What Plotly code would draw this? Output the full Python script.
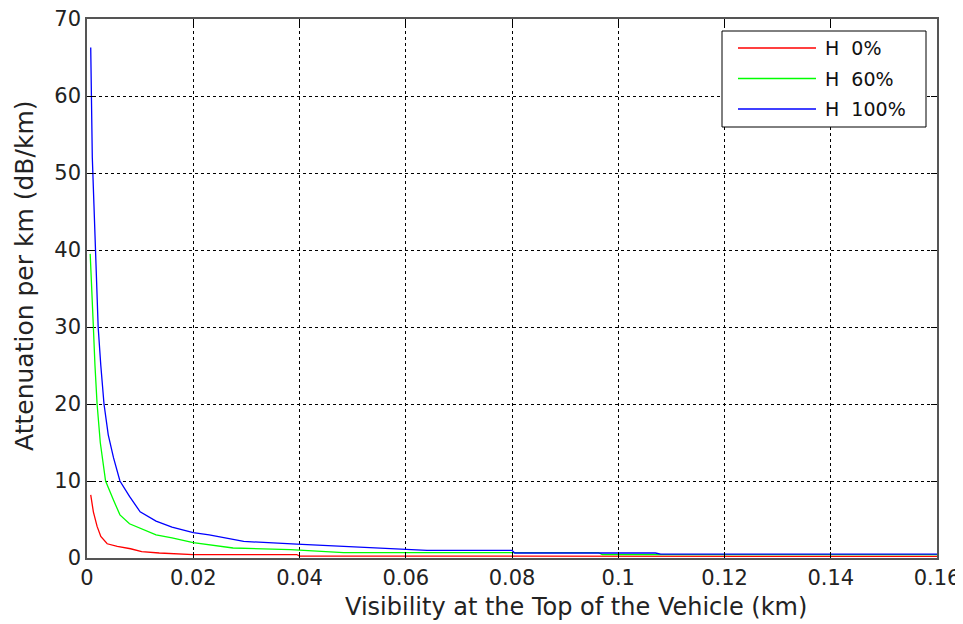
import plotly.graph_objects as go

# ---- data ----
series_names = ["H 0%", "H 60%", "H 100%"]
series_colors = ["#ff0000", "#00ff00", "#0000ff"]

x_h0 = [0.0007, 0.0012, 0.0019, 0.0026, 0.0038, 0.0057, 0.0082, 0.0103, 0.0136,
        0.020, 0.0395, 0.040, 0.16]
y_h0 = [8.2, 6.0, 4.1, 2.8, 1.85, 1.5, 1.2, 0.82, 0.65,
        0.45, 0.45, 0.25, 0.2]

x_h60 = [0.0006, 0.0008, 0.0012, 0.0015, 0.0019, 0.0025, 0.0035, 0.005, 0.0062,
         0.008, 0.010, 0.013, 0.016, 0.020, 0.0275, 0.0383, 0.0483, 0.0963, 0.097, 0.16]
y_h60 = [39.5, 35.5, 30, 25, 20, 15, 10, 7.5, 5.6,
         4.45, 3.9, 3.0, 2.6, 2.0, 1.3, 1.08, 0.7, 0.7, 0.45, 0.45]

x_h100 = [0.0007, 0.0008, 0.0010, 0.0013, 0.0016, 0.0021, 0.0026, 0.0032, 0.0040,
          0.0050, 0.0062, 0.0080, 0.010, 0.013, 0.016, 0.020, 0.023, 0.0295, 0.0395,
          0.0533, 0.064, 0.080, 0.0805, 0.107, 0.108, 0.16]
y_h100 = [66.3, 60, 52, 46, 40, 30, 25, 20, 16,
          13, 10, 8.0, 6.0, 4.8, 4.0, 3.3, 3.0, 2.15, 1.8,
          1.3, 1.0, 1.0, 0.65, 0.65, 0.5, 0.5]

x_ticks = [0, 0.02, 0.04, 0.06, 0.08, 0.1, 0.12, 0.14, 0.16]
x_tick_labels = ["0", "0.02", "0.04", "0.06", "0.08", "0.1", "0.12", "0.14", "0.16"]
y_ticks = [0, 10, 20, 30, 40, 50, 60, 70]

x_title = "Visibility at the Top of the Vehicle (km)"
y_title = "Attenuation per km (dB/km)"

fig = go.Figure()
for xs, ys, name, col in zip([x_h0, x_h60, x_h100], [y_h0, y_h60, y_h100],
                             series_names, series_colors):
    fig.add_trace(go.Scatter(x=xs, y=ys, mode="lines", name=name,
                             line=dict(color=col, width=1.3), showlegend=False))

axis_common = dict(
    showline=True, mirror="ticks", linecolor="#555555", linewidth=1.5,
    ticks="inside", ticklen=6, tickcolor="#000000",
    showgrid=True, gridcolor="#000000", gridwidth=1, griddash="3px,3px",
    zeroline=False, automargin=False, ticklabeloverflow="allow",
    tickfont=dict(family="DejaVu Sans, sans-serif", size=21, color="#222222"),
)

fig.update_xaxes(range=[0, 0.16], tickvals=x_ticks, ticktext=x_tick_labels, **axis_common)
fig.update_yaxes(range=[0, 70], tickvals=y_ticks, **axis_common)

# ---- page geometry (the page body adds an 8px offset) ----
OFF = 8
W, H = 955, 616
ml, mr, mt, mb = 79, 26, 11, 66
pw, ph = W - ml - mr, H - mt - mb

def px(xp):
    return (xp - OFF - ml) / pw

def py(yp):
    return 1 - (yp - OFF - mt) / ph

# ---- legend drawn as a boxed key (MATLAB style) ----
L0, R0, T0, B0 = 722, 926, 31, 127
shapes = [dict(type="rect", xref="paper", yref="paper",
               x0=px(L0), x1=px(R0), y0=py(B0), y1=py(T0),
               line=dict(color="#000000", width=1), fillcolor="white", layer="above")]
annotations = []
for i, (name, col) in enumerate(zip(series_names, series_colors)):
    yy = 48 + i * 30.5
    shapes.append(dict(type="line", xref="paper", yref="paper",
                       x0=px(738), x1=px(816), y0=py(yy), y1=py(yy),
                       line=dict(color=col, width=1.3), layer="above"))
    annotations.append(dict(xref="paper", yref="paper", x=px(823), y=py(yy),
                            xanchor="left", yanchor="middle", showarrow=False,
                            text=name.replace(" ", "\u00a0\u00a0"),
                            font=dict(family="DejaVu Sans, sans-serif",
                                      size=19, color="#111111")))

# ---- axis titles ----
annotations.append(dict(xref="paper", yref="paper", x=px(576), y=py(607),
                        xanchor="center", yanchor="middle", showarrow=False,
                        text=x_title,
                        font=dict(family="DejaVu Sans, sans-serif", size=24, color="#222222")))
annotations.append(dict(xref="paper", yref="paper", x=px(24), y=py(276),
                        xanchor="center", yanchor="middle", showarrow=False,
                        text=y_title, textangle=-90,
                        font=dict(family="DejaVu Sans, sans-serif", size=25, color="#222222")))

fig.update_layout(
    width=W, height=H,
    margin=dict(l=ml, r=mr, t=mt, b=mb, autoexpand=False),
    paper_bgcolor="white", plot_bgcolor="white",
    shapes=shapes, annotations=annotations,
    showlegend=False,
)

fig.write_html("out.html")
